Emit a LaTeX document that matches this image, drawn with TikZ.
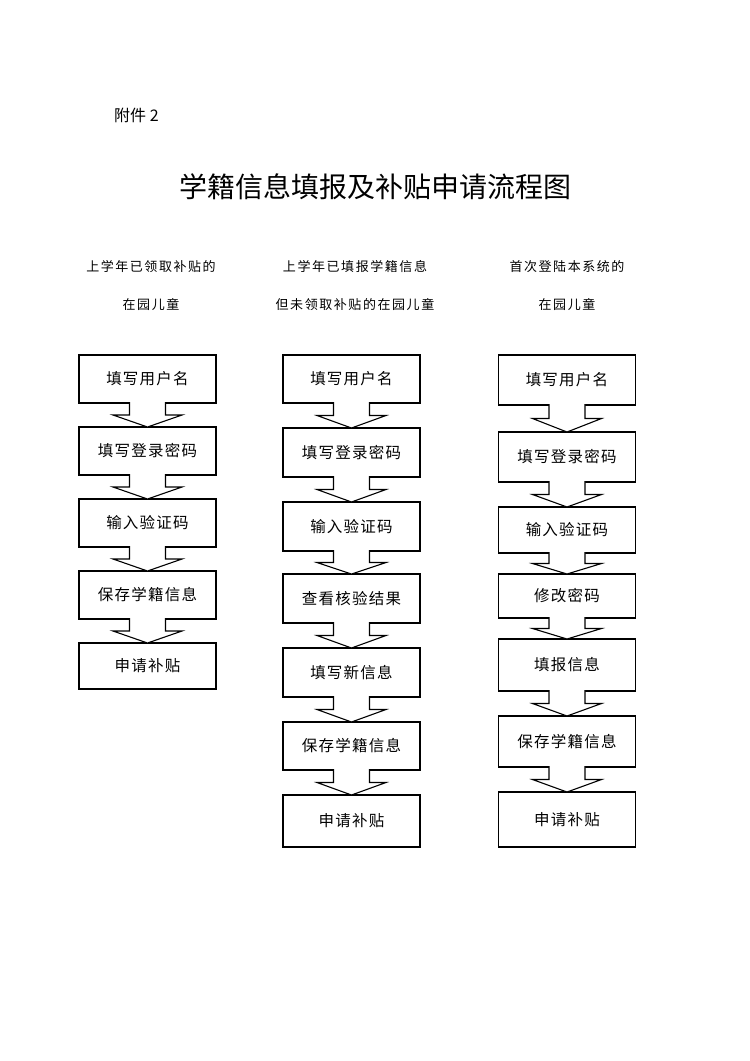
\documentclass[tikz,border=0pt]{standalone}
\usepackage{fontspec}
\newfontfamily\cjk{Noto Sans CJK SC}
\newfontfamily\cjkbox[LetterSpace=8]{Noto Sans CJK SC}
\newfontfamily\cjkhead[LetterSpace=12]{Noto Sans CJK SC}
\usepackage{tikz}
\usetikzlibrary{calc, positioning}
\tikzstyle{stepbox} = [rectangle, minimum width=137pt, minimum height=48pt, inner sep=0pt, outer sep=0pt, draw = black, line width=1.1pt, fill=white, font=\cjkbox\fontsize{15.5}{18}\selectfont]
\tikzstyle{flowarrow} = [draw = black, line width=1.1pt, fill=white, line join=miter]
\tikzstyle{header} = [align=center, inner sep=0pt, font=\cjkhead\fontsize{13}{38}\selectfont]

% block arrow from one box to the next
\newcommand{\flowstep}[2]{%
  \draw[flowarrow] ($(#1.south)+(-18,1)$) -- ($(#1.south)!0.5!(#2.north)+(-18,0)$)
    -- ($(#1.south)!0.5!(#2.north)+(-34.5,0)$) -- (#2.north)
    -- ($(#1.south)!0.5!(#2.north)+(34.5,0)$) -- ($(#1.south)!0.5!(#2.north)+(18,0)$)
    -- ($(#1.south)+(18,1)$);}

\begin{document}
\begin{tikzpicture}[x=1pt, y=1pt]
\useasboundingbox (0,0) rectangle (750,-1061);
\fill[white] (0,0) rectangle (750,-1061);

% Title:
\node(annex)[anchor=west, inner sep=0pt, font=\cjk\fontsize{16}{18}\selectfont] at (114,-115) {附件 2};
\node(title)[inner sep=0pt, font=\cjk\fontsize{28}{32}\selectfont] at (375.5,-187) {学籍信息填报及补贴申请流程图};

% Column headers:
\node(lhead)[header] at (151,-286) {上学年已领取补贴的\\在园儿童};
\node(mhead)[header] at (355,-286) {上学年已填报学籍信息\\但未领取补贴的在园儿童};
\node(rhead)[header] at (567,-286) {首次登陆本系统的\\在园儿童};

% Left column:
\node(lname)[stepbox] at (147.5,-379) {填写用户名};
\node(lpass)[stepbox, below=24pt of lname] {填写登录密码};
\node(lcode)[stepbox, below=24pt of lpass] {输入验证码};
\node(lsave)[stepbox, below=24pt of lcode] {保存学籍信息};
\node(lapply)[stepbox, below=24pt of lsave, minimum height=46pt] {申请补贴};

% Middle column:
\node(mname)[stepbox] at (351.5,-379) {填写用户名};
\node(mpass)[stepbox, below=25pt of mname, minimum height=49pt] {填写登录密码};
\node(mcode)[stepbox, below=25pt of mpass, minimum height=49pt] {输入验证码};
\node(mcheck)[stepbox, below=23pt of mcode, minimum height=49pt] {查看核验结果};
\node(mnew)[stepbox, below=25pt of mcheck, minimum height=49pt] {填写新信息};
\node(msave)[stepbox, below=25pt of mnew] {保存学籍信息};
\node(mapply)[stepbox, below=25pt of msave, minimum height=52pt] {申请补贴};

% Right column:
\node(rname)[stepbox, minimum height=50pt] at (567,-380) {填写用户名};
\node(rpass)[stepbox, below=27pt of rname, minimum height=50pt] {填写登录密码};
\node(rcode)[stepbox, below=25pt of rpass, minimum height=46pt] {输入验证码};
\node(rchange)[stepbox, below=21pt of rcode, minimum height=44pt] {修改密码};
\node(rfill)[stepbox, below=21pt of rchange, minimum height=52pt] {填报信息};
\node(rsave)[stepbox, below=25pt of rfill, minimum height=51pt] {保存学籍信息};
\node(rapply)[stepbox, below=25pt of rsave, minimum height=55pt] {申请补贴};

% Arrows:
\flowstep{lname}{lpass}
\flowstep{lpass}{lcode}
\flowstep{lcode}{lsave}
\flowstep{lsave}{lapply}
\flowstep{mname}{mpass}
\flowstep{mpass}{mcode}
\flowstep{mcode}{mcheck}
\flowstep{mcheck}{mnew}
\flowstep{mnew}{msave}
\flowstep{msave}{mapply}
\flowstep{rname}{rpass}
\flowstep{rpass}{rcode}
\flowstep{rcode}{rchange}
\flowstep{rchange}{rfill}
\flowstep{rfill}{rsave}
\flowstep{rsave}{rapply}

\end{tikzpicture}
\end{document}
